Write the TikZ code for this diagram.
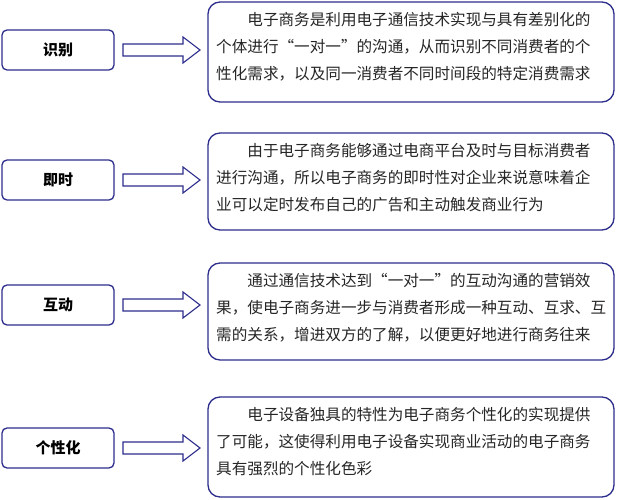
\documentclass[tikz,border=0pt]{standalone}
\usepackage{fontspec}
\newfontfamily\cjk{Noto Sans CJK SC}
\definecolor{bd}{RGB}{45,45,140}
\tikzset{
 lbox/.style={draw=bd,line width=1.3pt,rounded corners=5pt,fill=white},
 rbox/.style={draw=bd,line width=1.3pt,rounded corners=12pt,fill=white},
 txt/.style={anchor=north west,align=left,inner sep=0pt,font=\cjk\fontsize{15.6pt}{27pt}\selectfont,text=black!85},
 barrow/.style={draw=bd,line width=1.1pt,fill=white,line join=miter}
}
\begin{document}
\begin{tikzpicture}[x=1pt,y=-1pt]
\useasboundingbox (0,0) rectangle (622,500);
\foreach \n/\t/\yt/\yb/\ryt/\ryb in {a/识别/30/70/2/102,b/即时/160/200/133/230,c/互动/285/325/263/360,d/个性化/428/468/397/497}{
 \draw[lbox] (2,\yt) rectangle (114,\yb);
 \node[font=\cjk\bfseries\fontsize{15pt}{18pt}\selectfont] (l\n) at (58,{(\yt+\yb)/2}) {\t};
 \coordinate (m\n) at (0,{(\yt+\yb)/2});
 \draw[barrow] ([shift={(123,-6)}]m\n) -- ++(60,0) -- ++(0,-7) -- ++(17,13) -- ++(-17,13) -- ++(0,-7) -- ++(-60,0) -- cycle;
 \draw[rbox] (208,\ryt) rectangle (614,\ryb);
 \coordinate (r\n) at (216,{\ryt+10});
}
\node[txt] (ta) at (ra) {\hspace*{2em}电子商务是利用电子通信技术实现与具有差别化的\\个体进行“一对一”的沟通，从而识别不同消费者的个\\性化需求，以及同一消费者不同时间段的特定消费需求};
\node[txt] (tb) at (rb) {\hspace*{2em}由于电子商务能够通过电商平台及时与目标消费者\\进行沟通，所以电子商务的即时性对企业来说意味着企\\业可以定时发布自己的广告和主动触发商业行为};
\node[txt] (tc) at (rc) {\hspace*{2em}通过通信技术达到“一对一”的互动沟通的营销效\\果，使电子商务进一步与消费者形成一种互动、互求、互\\需的关系，增进双方的了解，以便更好地进行商务往来};
\node[txt] (td) at (rd) {\hspace*{2em}电子设备独具的特性为电子商务个性化的实现提供\\了可能，这使得利用电子设备实现商业活动的电子商务\\具有强烈的个性化色彩};
\end{tikzpicture}
\end{document}
